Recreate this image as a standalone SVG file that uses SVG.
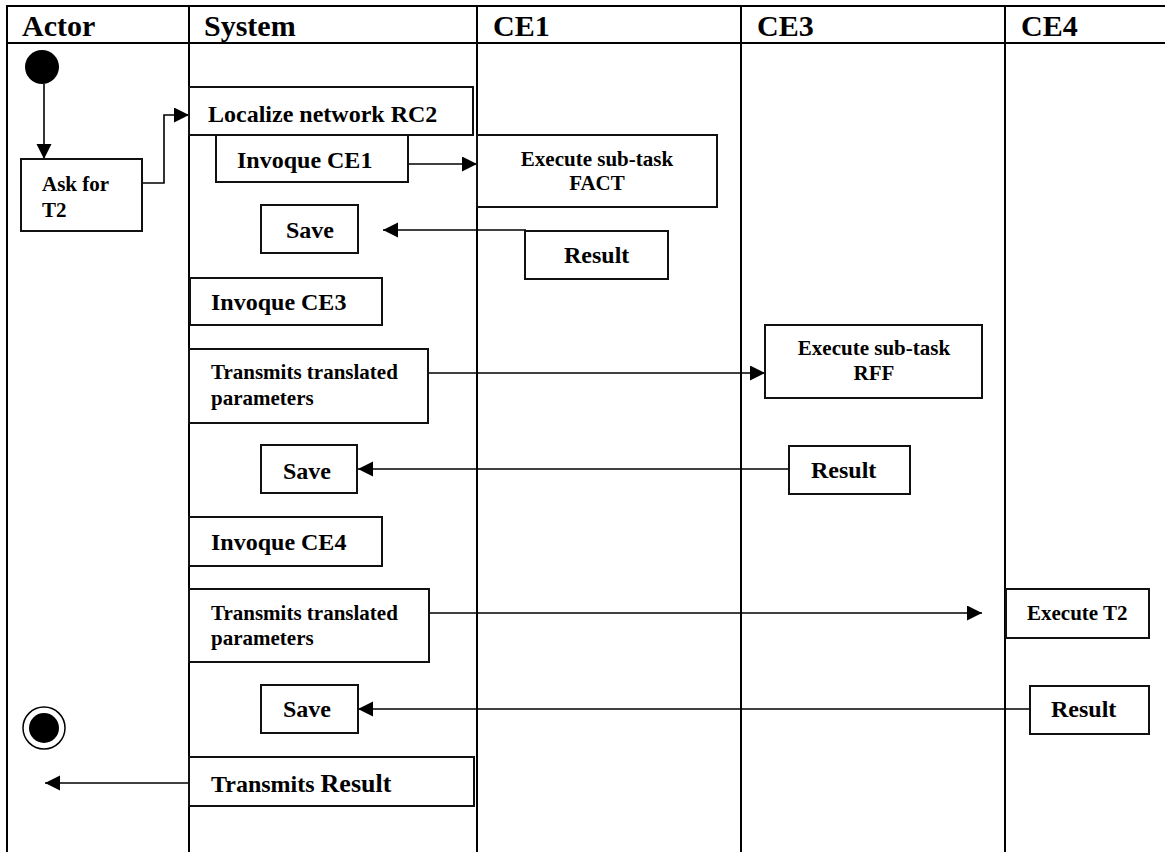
<svg xmlns="http://www.w3.org/2000/svg" width="1165" height="852" viewBox="0 0 1165 852">
<style>
text{font-family:"Liberation Serif","Times New Roman",serif;font-weight:bold;fill:#000}
.h{font-size:30px}
.b{font-size:24px}
.s{font-size:21px}
.grid{stroke:#000;stroke-width:2;fill:none}
.box{fill:#fff;stroke:#111;stroke-width:2}
.con{stroke:#000;stroke-width:1.6;fill:none;marker-end:url(#arr)}
</style>
<defs>
<marker id="arr" markerUnits="userSpaceOnUse" markerWidth="16" markerHeight="16" refX="15" refY="7.5" orient="auto">
<path d="M0,0 L15,7.5 L0,15 z" fill="#000"/>
</marker>
</defs>
<rect width="1165" height="852" fill="#fff"/>
<g id="table">
<line class="grid" x1="6" y1="6" x2="1165" y2="6"/>
<line class="grid" x1="6" y1="43" x2="1165" y2="43"/>
<line class="grid" x1="7" y1="5" x2="7" y2="852"/>
<line class="grid" x1="189" y1="5" x2="189" y2="852"/>
<line class="grid" x1="477" y1="5" x2="477" y2="852"/>
<line class="grid" x1="741" y1="5" x2="741" y2="852"/>
<line class="grid" x1="1005" y1="5" x2="1005" y2="852"/>
<text class="h" x="22" y="36">Actor</text>
<text class="h" x="204" y="36">System</text>
<text class="h" x="493" y="36">CE1</text>
<text class="h" x="757" y="36">CE3</text>
<text class="h" x="1021" y="36">CE4</text>
</g>
<g id="connectors">
<line class="con" x1="44" y1="84" x2="44" y2="159"/>
<polyline class="con" points="142,183 164,183 164,115 189,115"/>
<line class="con" x1="404" y1="164" x2="477" y2="164"/>
<line class="con" x1="526" y1="230" x2="383" y2="230"/>
<line class="con" x1="428" y1="373" x2="765" y2="373"/>
<line class="con" x1="789" y1="469" x2="358" y2="469"/>
<line class="con" x1="429" y1="613" x2="982" y2="613"/>
<line class="con" x1="1030" y1="709" x2="358" y2="709"/>
<line class="con" x1="189" y1="783" x2="45" y2="783"/>
</g>
<g id="start"><circle cx="42" cy="67" r="17" fill="#000"/></g>
<g id="end"><circle cx="44" cy="728" r="21" fill="#fff" stroke="#000" stroke-width="1.5"/><circle cx="44" cy="728" r="15" fill="#000"/></g>
<g id="ask"><rect class="box" x="21" y="159" width="121" height="72"/><text class="s" x="42" y="191">Ask for</text><text class="s" x="42" y="217">T2</text></g>
<g id="localize"><rect class="box" x="189" y="87" width="284" height="48"/><text class="b" x="208" y="122">Localize network RC2</text></g>
<g id="invoque-ce1"><rect class="box" x="216" y="135" width="192" height="47"/><text class="b" x="237" y="168">Invoque CE1</text></g>
<g id="fact"><rect class="box" x="477" y="135" width="240" height="72"/><text class="s" x="597" y="166" text-anchor="middle">Execute sub-task</text><text class="s" x="597" y="190" text-anchor="middle">FACT</text></g>
<g id="save1"><rect class="box" x="261" y="205" width="97" height="48"/><text class="b" x="286" y="238">Save</text></g>
<g id="result1"><rect class="box" x="525" y="231" width="143" height="48"/><text class="b" x="564" y="263">Result</text></g>
<g id="invoque-ce3"><rect class="box" x="190" y="278" width="192" height="47"/><text class="b" x="211" y="310">Invoque CE3</text></g>
<g id="transmits1"><rect class="box" x="189" y="349" width="239" height="74"/><text class="s" x="211" y="379">Transmits translated</text><text class="s" x="211" y="405">parameters</text></g>
<g id="rff"><rect class="box" x="765" y="325" width="217" height="73"/><text class="s" x="874" y="355" text-anchor="middle">Execute sub-task</text><text class="s" x="874" y="380" text-anchor="middle">RFF</text></g>
<g id="save2"><rect class="box" x="261" y="445" width="96" height="48"/><text class="b" x="283" y="479">Save</text></g>
<g id="result2"><rect class="box" x="789" y="446" width="121" height="48"/><text class="b" x="811" y="478">Result</text></g>
<g id="invoque-ce4"><rect class="box" x="189" y="517" width="193" height="49"/><text class="b" x="211" y="550">Invoque CE4</text></g>
<g id="transmits2"><rect class="box" x="189" y="589" width="240" height="73"/><text class="s" x="211" y="620">Transmits translated</text><text class="s" x="211" y="645">parameters</text></g>
<g id="execute-t2"><rect class="box" x="1006" y="589" width="143" height="49"/><text class="s" x="1027" y="620">Execute T2</text></g>
<g id="save3"><rect class="box" x="261" y="685" width="97" height="48"/><text class="b" x="283" y="717">Save</text></g>
<g id="result3"><rect class="box" x="1030" y="686" width="119" height="48"/><text class="b" x="1051" y="717">Result</text></g>
<g id="transmits-result"><rect class="box" x="189" y="757" width="285" height="49"/><text x="211" y="792"><tspan font-size="24px">Transmits </tspan><tspan font-size="26px">Result</tspan></text></g>
</svg>
